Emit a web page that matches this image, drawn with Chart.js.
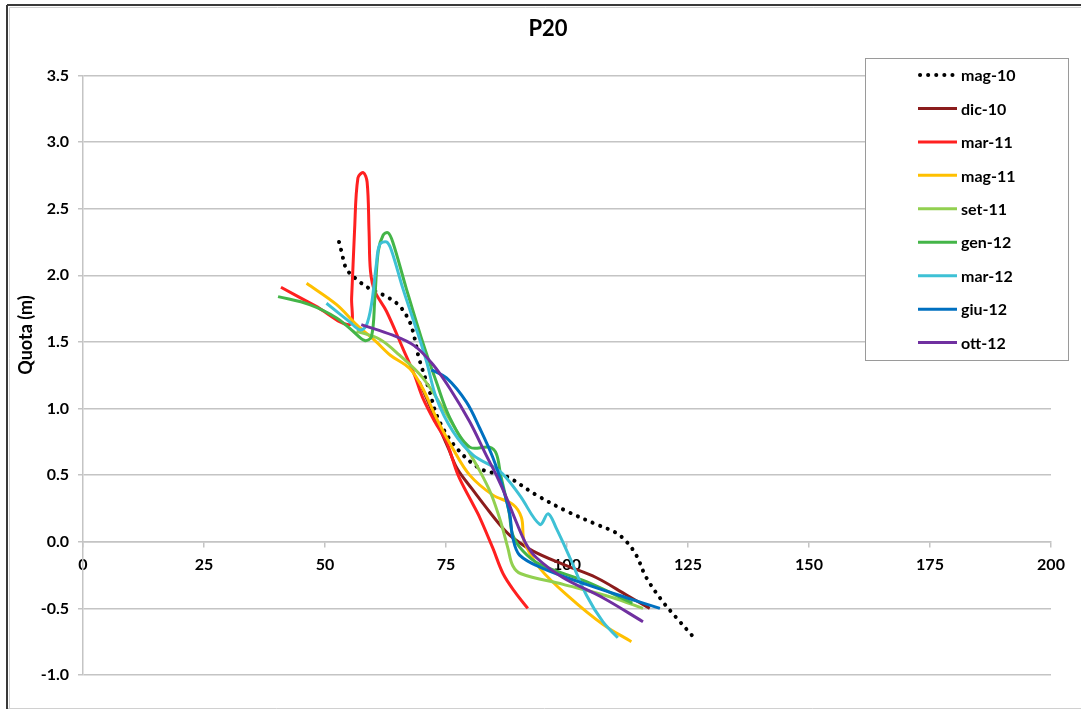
<!DOCTYPE html>
<html>
<head>
<meta charset="utf-8">
<script src="https://cdn.jsdelivr.net/npm/chart.js@4"></script>
<style>
  body { margin: 0; background: #fff; }
  canvas { display: block; }
</style>
</head>
<body>
<canvas id="chart" width="1081" height="709"></canvas>
<script>
// Series (x = distance, y = quota in m)
const seriesNames = ['mag-10', 'dic-10', 'mar-11', 'mag-11', 'set-11', 'gen-12', 'mar-12', 'giu-12', 'ott-12'];
const seriesColors = ['#000000', '#8b1c1c', '#ff2020', '#ffc000', '#92d050', '#44b548', '#3ec1d5', '#0070c0', '#7030a0'];

const mag10X = [52.9, 53.4, 54.4, 56.5, 59.2, 62.7, 65.4, 67.5, 68.5, 69.4, 71.6, 73.3, 76.8, 82.0, 87.5, 93.7, 99.9, 106.1, 110.0, 112.3, 114.3, 116.4, 119.8, 122.6, 126.0];
const mag10Y = [2.25, 2.18, 2.05, 1.97, 1.90, 1.84, 1.77, 1.65, 1.53, 1.38, 1.13, 0.93, 0.72, 0.55, 0.49, 0.35, 0.23, 0.13, 0.07, 0.0, -0.10, -0.27, -0.45, -0.57, -0.71];

const dic10X = [69.5, 72.5, 75.5, 77.3, 80.3, 84.3, 86.8, 88.8, 93.0, 99.2, 106.1, 112.3, 117.1];
const dic10Y = [1.20, 0.95, 0.70, 0.55, 0.40, 0.21, 0.10, 0.03, -0.07, -0.17, -0.27, -0.40, -0.50];

const mar11X = [40.9, 48.0, 55.1, 55.5, 56.1, 56.8, 57.9, 58.7, 59.1, 59.4, 60.3, 62.7, 66.1, 68.5, 70.2, 72.7, 75.1, 77.5, 80.3, 82.0, 84.7, 86.8, 89.3, 91.9];
const mar11Y = [1.91, 1.77, 1.63, 1.83, 2.33, 2.73, 2.77, 2.70, 2.33, 2.03, 1.88, 1.73, 1.45, 1.25, 1.08, 0.90, 0.75, 0.50, 0.30, 0.18, -0.05, -0.24, -0.38, -0.50];

const mag11X = [46.2, 52.4, 56.5, 60.6, 63.5, 67.5, 70.2, 73.0, 76.4, 79.9, 84.7, 88.8, 90.6, 91.2, 94.4, 100.6, 107.4, 113.3];
const mag11Y = [1.94, 1.78, 1.63, 1.50, 1.40, 1.30, 1.15, 0.93, 0.70, 0.50, 0.35, 0.28, 0.18, 0.0, -0.20, -0.42, -0.62, -0.75];

const set11X = [56.5, 61.3, 65.4, 70.2, 74.4, 78.5, 82.0, 84.3, 86.3, 87.8, 88.8, 90.5, 99.2, 109.5, 115.7];
const set11Y = [1.58, 1.52, 1.40, 1.23, 1.00, 0.75, 0.53, 0.36, 0.15, -0.05, -0.18, -0.24, -0.32, -0.42, -0.50];

const gen12X = [40.3, 46.8, 52.4, 55.8, 58.2, 59.6, 60.3, 61.0, 62.0, 63.0, 64.0, 66.8, 69.9, 73.0, 75.8, 79.9, 84.0, 85.4, 86.3, 88.0, 88.8, 90.9, 94.4, 104.0, 113.5];
const gen12Y = [1.84, 1.78, 1.68, 1.58, 1.51, 1.54, 1.83, 2.18, 2.30, 2.32, 2.25, 1.90, 1.53, 1.20, 0.93, 0.71, 0.71, 0.66, 0.50, 0.23, 0.05, -0.07, -0.17, -0.30, -0.46];

const mar12X = [50.3, 55.1, 57.2, 58.5, 59.6, 60.6, 61.3, 62.7, 63.7, 66.1, 69.2, 71.0, 73.0, 76.4, 80.6, 86.1, 90.2, 94.4, 96.1, 97.8, 100.6, 104.0, 107.4, 110.5];
const mar12Y = [1.79, 1.65, 1.59, 1.62, 1.78, 2.08, 2.23, 2.25, 2.19, 1.90, 1.56, 1.35, 1.08, 0.83, 0.65, 0.53, 0.35, 0.13, 0.21, 0.10, -0.12, -0.40, -0.60, -0.72];

const giu12X = [72.0, 75.1, 79.2, 82.0, 84.7, 86.8, 88.2, 88.8, 90.2, 95.0, 104.0, 112.3, 119.2];
const giu12Y = [1.29, 1.23, 1.05, 0.85, 0.63, 0.40, 0.20, 0.03, -0.10, -0.20, -0.32, -0.42, -0.50];

const ott12X = [57.5, 64.0, 68.5, 72.3, 75.8, 79.9, 83.3, 85.4, 87.5, 89.5, 91.6, 93.7, 99.2, 107.4, 115.7];
const ott12Y = [1.63, 1.55, 1.47, 1.33, 1.15, 0.90, 0.65, 0.50, 0.33, 0.15, -0.02, -0.12, -0.27, -0.42, -0.60];

const allX = [mag10X, dic10X, mar11X, mag11X, set11X, gen12X, mar12X, giu12X, ott12X];
const allY = [mag10Y, dic10Y, mar11Y, mag11Y, set11Y, gen12Y, mar12Y, giu12Y, ott12Y];

const xTicks = [0, 25, 50, 75, 100, 125, 150, 175, 200];
const yTicks = [-1.0, -0.5, 0.0, 0.5, 1.0, 1.5, 2.0, 2.5, 3.0, 3.5];

const yTitle = 'Quota (m)';
const FONT = 'Lato, "Open Sans", sans-serif';
const GRID = '#c4c4c4';

const dotted = [0.1, 8];

const datasets = seriesNames.map((name, i) => ({
    label: name,
    data: allX[i].map((x, j) => ({ x: x, y: allY[i][j] })),
    showLine: true,
    borderColor: seriesColors[i],
    backgroundColor: seriesColors[i],
    borderWidth: i === 0 ? 4 : 3,
    borderDash: i === 0 ? dotted : [],
    borderCapStyle: i === 0 ? 'round' : 'butt',
    tension: 0.35,
    pointRadius: 0,
    order: seriesNames.length - i // later series on top, like the original
}));

// frame around the whole chart, y axis title
const framePlugin = {
    id: 'frame',
    afterLayout(chart) {
        // widen the y axis box to the left so its labels are not clipped
        const s = chart.scales.y;
        s.left = 14;
        s.width = s.right - s.left;
    },
    beforeDraw(chart) {
        const c = chart.ctx;
        c.save();
        c.fillStyle = '#fff';
        c.fillRect(0, 0, chart.width, chart.height);
        c.strokeStyle = '#d0d0d0';
        c.lineWidth = 1;
        c.beginPath();
        c.moveTo(9.5, 7.5); c.lineTo(chart.width, 7.5);
        c.moveTo(9.5, 7.5); c.lineTo(9.5, chart.height);
        c.moveTo(8, 708.5); c.lineTo(chart.width, 708.5);
        c.stroke();
        c.strokeStyle = '#3a3a3a';
        c.lineWidth = 2;
        c.beginPath();
        c.moveTo(7, 5); c.lineTo(chart.width, 5);
        c.moveTo(7, 5); c.lineTo(7, chart.height);
        c.stroke();
        c.restore();
    },
    afterDraw(chart) {
        const c = chart.ctx;
        c.save();
        c.translate(26.5, 335);
        c.rotate(-Math.PI / 2);
        c.font = 'bold 18px ' + FONT;
        c.fillStyle = '#000';
        c.textAlign = 'center';
        c.textBaseline = 'middle';
        c.fillText(yTitle, 0, 0);
        c.restore();
    }
};

// legend box inside the plot, as in the original
const legendBoxPlugin = {
    id: 'legendBox',
    afterDraw(chart) {
        const c = chart.ctx;
        const left = 865, top = 58, right = 1068, bottom = 360;
        c.save();
        c.fillStyle = '#fff';
        c.fillRect(left, top, right - left, bottom - top);
        c.strokeStyle = '#9a9a9a';
        c.lineWidth = 1;
        c.strokeRect(left + 0.5, top + 0.5, right - left, bottom - top);
        c.font = 'bold 16px ' + FONT;
        c.textBaseline = 'middle';
        c.textAlign = 'left';
        chart.data.datasets.forEach((ds, i) => {
            const y = 75 + i * 33.45;
            c.strokeStyle = ds.borderColor;
            c.lineWidth = ds.borderWidth;
            c.lineCap = ds.borderCapStyle;
            c.setLineDash(ds.borderDash);
            c.beginPath();
            c.moveTo(i === 0 ? 920 : 918, y);
            c.lineTo(957, y);
            c.stroke();
            c.setLineDash([]);
            c.fillStyle = '#000';
            c.fillText(ds.label, 961, y + 1);
        });
        c.restore();
    }
};

const ctx = document.getElementById('chart').getContext('2d');
const chart = new Chart(ctx, {
    type: 'scatter',
    data: { datasets: datasets },
    plugins: [framePlugin, legendBoxPlugin],
    options: {
        responsive: false,
        animation: false,
        layout: { padding: { left: 45, right: 30, top: 0, bottom: 34 } },
        plugins: {
            legend: { display: false },
            tooltip: { enabled: false },
            title: {
                display: true,
                text: 'P20',
                color: '#000',
                font: { family: FONT, size: 22, weight: 'bold' },
                padding: { top: 16, bottom: 33 }
            }
        },
        scales: {
            x: {
                type: 'linear',
                position: { y: 0 },
                min: 0,
                max: 200,
                afterBuildTicks: s => { s.ticks = xTicks.map(v => ({ value: v })); },
                ticks: {
                    color: '#000',
                    font: { family: FONT, size: 16, weight: 'bold' },
                    padding: 8,
                    maxRotation: 0,
                    callback: v => String(v)
                },
                grid: { drawOnChartArea: false, tickLength: 5, color: GRID, lineWidth: 1.5 },
                border: { color: GRID, width: 1.5 }
            },
            y: {
                type: 'linear',
                min: -1,
                max: 3.5,
                afterBuildTicks: s => { s.ticks = yTicks.map(v => ({ value: v })); },
                afterFit: s => { s.width = 38; },
                ticks: {
                    color: '#000',
                    font: { family: FONT, size: 16, weight: 'bold' },
                    padding: 9,
                    callback: v => Number(v).toFixed(1)
                },
                grid: { color: GRID, lineWidth: 1.5, tickLength: 5 },
                border: { color: GRID, width: 1.5 }
            }
        }
    }
});
</script>
</body>
</html>
